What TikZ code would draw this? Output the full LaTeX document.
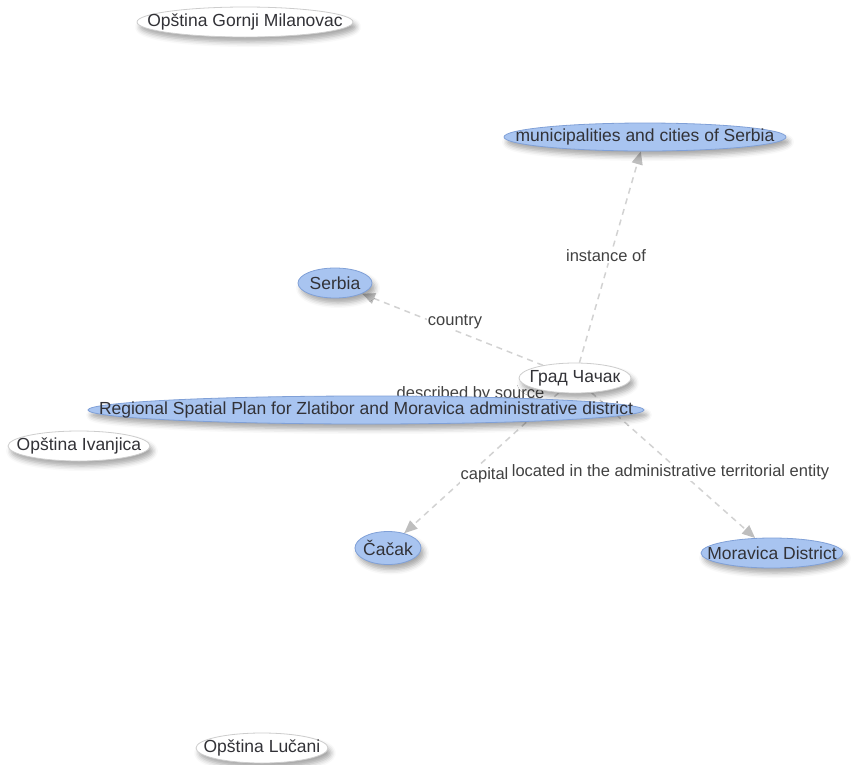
\documentclass[tikz,border=0pt]{standalone}
\usepackage{fontspec}
\setmainfont{Liberation Sans}
\usetikzlibrary{shapes.geometric,shadows.blur,arrows.meta,backgrounds,calc}
\definecolor{bluefill}{RGB}{168,196,240}
\definecolor{blueborder}{RGB}{128,160,215}
\definecolor{whiteborder}{RGB}{205,205,205}
\definecolor{txt}{RGB}{50,50,55}
\definecolor{labtxt}{RGB}{65,65,65}
\definecolor{edgegray}{RGB}{210,210,210}
\definecolor{tipgray}{RGB}{190,190,190}
\newcommand{\zbox}[1]{\makebox[0pt]{#1}}
\tikzset{
  ent/.style={ellipse, inner sep=0pt, draw=blueborder, fill=bluefill, line width=0.8pt,
    text=txt, font=\fontsize{17.5}{20}\selectfont,
    blur shadow={shadow xshift=3pt, shadow yshift=-5pt, shadow blur radius=5pt, shadow opacity=35}},
  lit/.style={ent, draw=whiteborder, fill=white},
  rel/.style={draw=edgegray, dash pattern=on 6pt off 5pt, line width=1.5pt,
    -{Triangle[length=13pt,width=11pt,fill=tipgray,color=tipgray,sep=0pt]}},
  lab/.style={fill=white, inner sep=1pt, font=\fontsize{16.5}{18}\selectfont, text=labtxt}
}
\begin{document}
\begin{tikzpicture}[x=1pt,y=-1pt]
\useasboundingbox (0,0) rectangle (855,764);
% nodes
\node[lit, minimum width=112pt, minimum height=30pt] (grad) at (575,378) {\zbox{Град Чачак}};
\node[ent, minimum width=282pt, minimum height=28pt] (muni) at (645,137) {\zbox{municipalities and cities of Serbia}};
\node[ent, minimum width=74pt, minimum height=30pt] (serbia) at (335,283) {\zbox{Serbia}};
\node[ent, minimum width=66pt, minimum height=33pt] (cacak) at (388,548) {\zbox{Čačak}};
\node[ent, minimum width=142pt, minimum height=30pt] (moravica) at (772,553) {\zbox{Moravica District}};
\node[lit, minimum width=216pt, minimum height=30pt] (gornji) at (245,22) {\zbox{Opština Gornji Milanovac}};
\node[lit, minimum width=142pt, minimum height=30pt] (ivanjica) at (79,446) {\zbox{Opština Ivanjica}};
\node[lit, minimum width=132pt, minimum height=30pt] (lucani) at (262,748) {\zbox{Opština Lučani}};
\node[ent, minimum width=556pt, minimum height=28pt] (regional) at (366,410) {\zbox{Regional Spatial Plan for Zlatibor and Moravica administrative district}};
% edges and labels behind nodes
\begin{scope}[on background layer]
\draw[rel] (grad) -- (muni);
\draw[rel] (grad) -- (serbia);
\draw[rel] (grad) -- (regional);
\draw[rel] (grad) -- (cacak);
\draw[rel] (grad) -- (moravica);
\node[lab] (l1) at ($(grad)!0.5!(muni)+(-4,-2)$) {instance of};
\node[lab] (l2) at ($(grad)!0.5!(serbia)+(0,-9)$) {country};
\node[lab] (l3) at ($(grad)!0.5!(regional)+(0,0)$) {described by source};
\node[lab] (l4) at ($(grad)!0.5!(cacak)+(3,12)$) {capital};
\node[lab] (l5) at ($(grad)!0.5!(moravica)+(-3,7)$) {located in the administrative territorial entity};
\end{scope}
\end{tikzpicture}
\end{document}
